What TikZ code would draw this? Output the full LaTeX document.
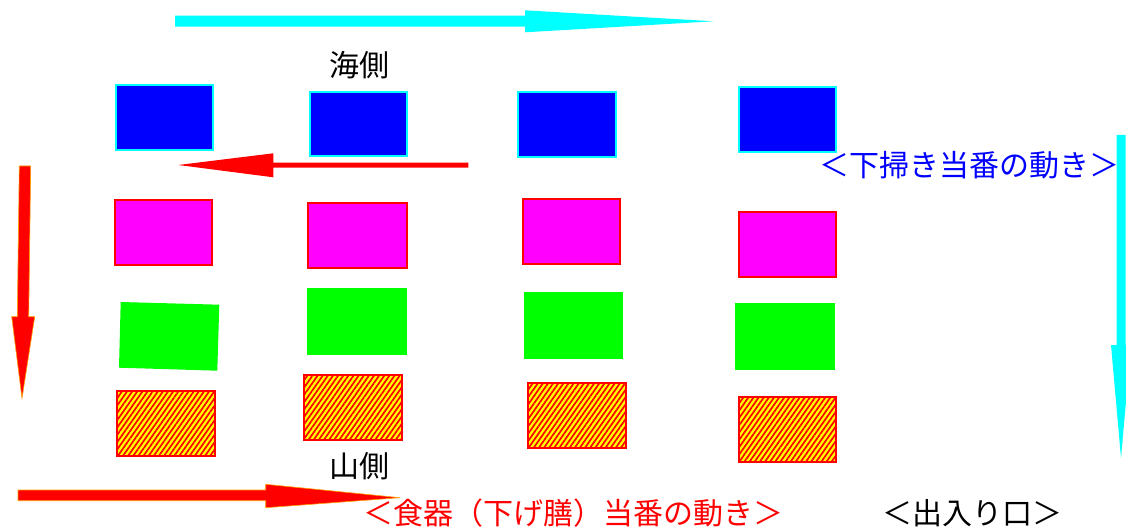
\documentclass[tikz,border=0pt]{standalone}
\usepackage{fontspec}
\setmainfont{Noto Sans CJK JP}
\usetikzlibrary{patterns.meta}
\definecolor{cyanc}{RGB}{0,255,255}
\definecolor{bluec}{RGB}{0,0,255}
\definecolor{magc}{RGB}{255,0,255}
\definecolor{greenc}{RGB}{0,255,0}
\definecolor{redc}{RGB}{255,0,0}
\definecolor{yelc}{RGB}{255,255,0}
\definecolor{orac}{RGB}{255,160,0}
\tikzset{
  seabox/.style={fill=bluec,draw=cyanc,line width=1.5pt},
  wipebox/.style={fill=magc,draw=redc,line width=1.8pt},
  greenbox/.style={fill=greenc},
  hatchbox/.style={preaction={fill=yelc},pattern={Lines[angle=55,distance=4.2pt,line width=1.7pt]},pattern color=redc,draw=redc,line width=1.6pt},
  cyanarrow/.style={fill=cyanc},
  redarrow/.style={fill=redc,draw=orac,line width=0.6pt,line join=miter},
  plainred/.style={fill=redc},
  lbl/.style={inner sep=0pt,font=\fontsize{30pt}{34pt}\selectfont}
}
\begin{document}
\begin{tikzpicture}[x=1pt,y=-1pt]
\clip (0,0) rectangle (1126,529);
\fill[white] (0,0) rectangle (1126,529);
% blue boxes (sea side)
\path[seabox] (116,85) rectangle (213,150);
\path[seabox] (310,92) rectangle (407,156);
\path[seabox] (518,92) rectangle (616,157);
\path[seabox] (739,87) rectangle (836,152);
% magenta boxes
\path[wipebox] (115,200) rectangle (212,265);
\path[wipebox] (308,203) rectangle (407,268);
\path[wipebox] (523,199) rectangle (620,264);
\path[wipebox] (739,212) rectangle (836,277);
% green boxes
\path[greenbox] (120.7,302) -- (219.3,304.7) -- (217.3,370.7) -- (119,367.7) -- cycle;
\path[greenbox] (307,288) rectangle (407,355);
\path[greenbox] (524,292) rectangle (623,359);
\path[greenbox] (735,303) rectangle (835,370);
% hatched boxes
\path[hatchbox] (117,391) rectangle (215,456);
\path[hatchbox] (304,375) rectangle (402,440);
\path[hatchbox] (528,383) rectangle (626,448);
\path[hatchbox] (739,397) rectangle (836,462);
% cyan top arrow
\path[cyanarrow] (175,15.7) -- (525,15.7) -- (525,10.3) -- (713.3,21.3) -- (525,32.3) -- (525,26.7) -- (175,26.7) -- cycle;
% cyan right vertical arrow
\path[cyanarrow] (1116.5,135) -- (1125.5,135) -- (1125.5,345) -- (1131,345) -- (1121,458) -- (1111,345) -- (1116.5,345) -- cycle;
% red middle arrow (leftward)
\path[plainred] (468.3,162.7) -- (273.3,162.7) -- (273.3,153.3) -- (178.3,165) -- (273.3,177.3) -- (273.3,167.7) -- (468.3,167.7) -- cycle;
% red left vertical arrow
\path[redarrow] (19.3,166) -- (30.7,166) -- (28.7,316.7) -- (34.7,316.7) -- (22,398.3) -- (11.7,316.7) -- (17.3,316.7) -- cycle;
% red bottom arrow
\path[redarrow] (18,490) -- (265.7,490) -- (265.7,484.3) -- (400,497.7) -- (265.7,507.7) -- (265.7,500.7) -- (18,500.7) -- cycle;
% labels
\node[lbl] (sea) at (359,65) {海側};
\node[lbl] (mountain) at (359.5,466) {山側};
\node[lbl,text=bluec] (sweep) at (969,165) {＜下掃き当番の動き＞};
\node[lbl,text=redc] (dish) at (573.5,513) {＜食器（下げ膳）当番の動き＞};
\node[lbl,text=black] (door) at (972,513) {＜出入り口＞};
\end{tikzpicture}
\end{document}
